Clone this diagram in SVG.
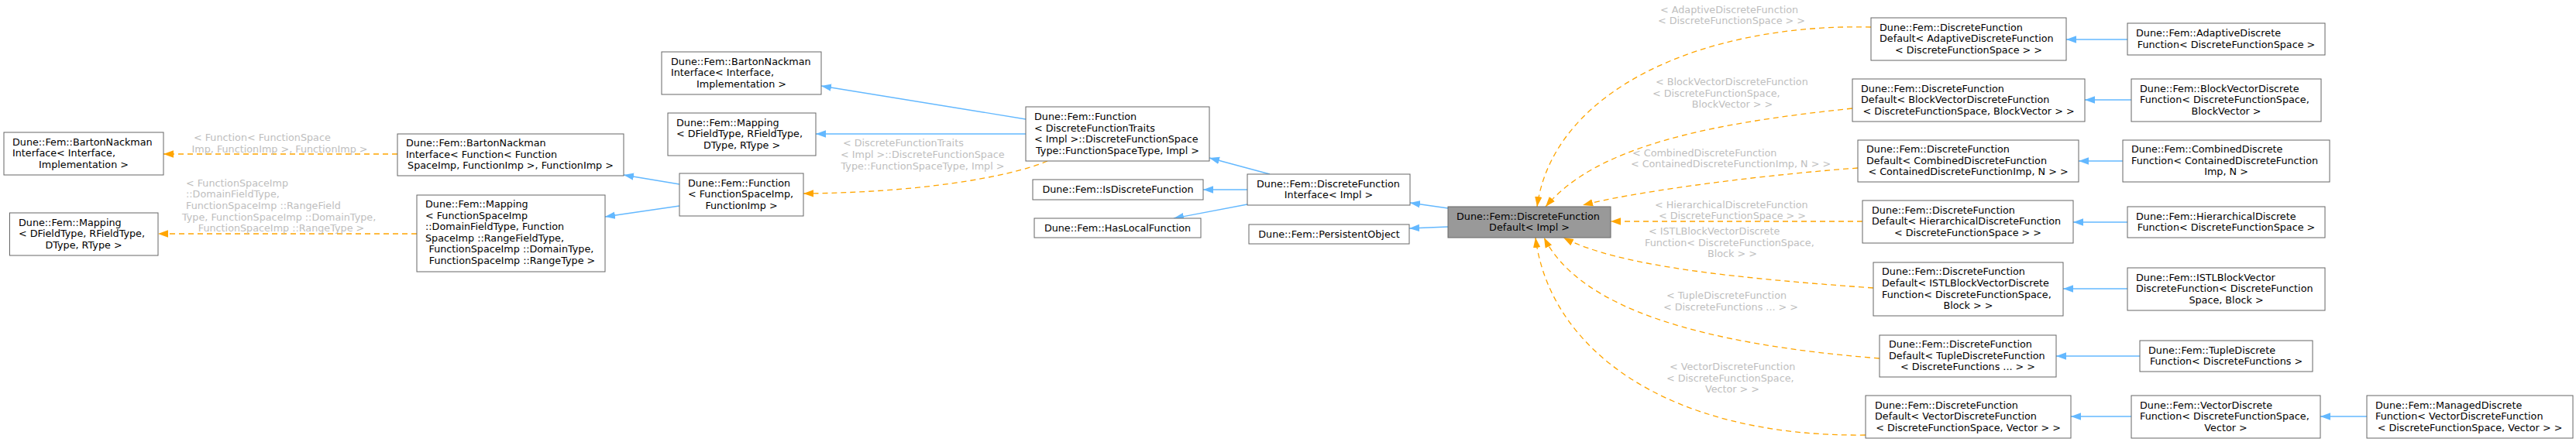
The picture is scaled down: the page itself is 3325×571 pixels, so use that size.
<svg xmlns="http://www.w3.org/2000/svg" width="3325" height="571" viewBox="0 0 3325 571">
<style>
text{font-family:"DejaVu Sans",sans-serif;font-size:12.75px;fill:#000}
.c{text-anchor:middle}
.lbl{fill:#bebebe}
.n{fill:#fff;stroke:#666;stroke-width:1}
.m{fill:#999;stroke:#666;stroke-width:1}
.b{fill:none;stroke:#63b8ff;stroke-width:1.3;marker-end:url(#ab)}
.o{fill:none;stroke:#ffa500;stroke-width:1.3;stroke-dasharray:7,5;marker-end:url(#ao)}
</style>
<defs>
<marker id="ab" viewBox="0 0 13 10" refX="13" refY="5" markerWidth="13" markerHeight="10" markerUnits="userSpaceOnUse" orient="auto"><path d="M0,0.3 L13,5 L0,9.7 z" fill="#63b8ff"/></marker>
<marker id="ao" viewBox="0 0 13 10" refX="13" refY="5" markerWidth="13" markerHeight="10" markerUnits="userSpaceOnUse" orient="auto"><path d="M0,0.3 L13,5 L0,9.7 z" fill="#ffa500"/></marker>
</defs>
<rect width="3325" height="571" fill="#fff"/>
<g id="connectors">
<path class="b" d="M1324,154 L1060,111"/>
<path class="b" d="M1324,173 L1053,173"/>
<path class="b" d="M877,238 L805,226"/>
<path class="b" d="M877,266 L781,280"/>
<path class="b" d="M1639,225 L1561,204"/>
<path class="b" d="M1610,245 L1553,245"/>
<path class="b" d="M1610,264 L1515,282"/>
<path class="b" d="M1869,269 L1820,262"/>
<path class="b" d="M1869,293 L1819,295"/>
<path class="b" d="M2746,51 L2667,51"/>
<path class="b" d="M2751,129 L2691,129"/>
<path class="b" d="M2740,208 L2683,208"/>
<path class="b" d="M2746,287 L2676,287"/>
<path class="b" d="M2746,373 L2663,373"/>
<path class="b" d="M2762,460 L2654,460"/>
<path class="b" d="M2751,538 L2673,538"/>
<path class="b" d="M3055,538 L2995,538"/>
<path class="o" d="M513,199 L211,199"/>
<path class="o" d="M538,302 L204,302"/>
<path class="o" d="M1352,208 C1300,230 1180,249 1037,250"/>
<path class="o" d="M2415,35 C2200,30 2005,115 1984,267"/>
<path class="o" d="M2391,140 C2200,160 2060,190 1995,267"/>
<path class="o" d="M2398,217 C2250,228 2100,250 2043,265"/>
<path class="o" d="M2404,286 L2079,286"/>
<path class="o" d="M2418,372 C2250,360 2090,345 2018,307"/>
<path class="o" d="M2426,463 C2200,445 2040,400 1993,307"/>
<path class="o" d="M2408,562 C2150,565 2000,450 1982,307"/>
<g id="edge-labels">
<text class="lbl" x="250" y="181.5">&lt; Function&lt; FunctionSpace</text>
<text class="lbl c" x="361" y="196.5">Imp, FunctionImp &gt;, FunctionImp &gt;</text>
<text class="lbl" x="240" y="240.5">&lt; FunctionSpaceImp</text>
<text class="lbl" x="240" y="254.5">::DomainFieldType,</text>
<text class="lbl" x="240" y="269.5">FunctionSpaceImp ::RangeField</text>
<text class="lbl" x="235" y="284.5">Type, FunctionSpaceImp ::DomainType,</text>
<text class="lbl c" x="363" y="298.5">FunctionSpaceImp ::RangeType &gt;</text>
<text class="lbl" x="1088" y="188.5">&lt; DiscreteFunctionTraits</text>
<text class="lbl" x="1085" y="203.5">&lt; Impl &gt;::DiscreteFunctionSpace</text>
<text class="lbl c" x="1191" y="218.5">Type::FunctionSpaceType, Impl &gt;</text>
<text class="lbl" x="2143" y="16.5">&lt; AdaptiveDiscreteFunction</text>
<text class="lbl c" x="2235" y="30.5">&lt; DiscreteFunctionSpace &gt; &gt;</text>
<text class="lbl" x="2137" y="109.5">&lt; BlockVectorDiscreteFunction</text>
<text class="lbl" x="2133" y="124.5">&lt; DiscreteFunctionSpace,</text>
<text class="lbl c" x="2236" y="138.5">BlockVector &gt; &gt;</text>
<text class="lbl" x="2107" y="201.5">&lt; CombinedDiscreteFunction</text>
<text class="lbl c" x="2234" y="215.5">&lt; ContainedDiscreteFunctionImp, N &gt; &gt;</text>
<text class="lbl" x="2136" y="268.5">&lt; HierarchicalDiscreteFunction</text>
<text class="lbl c" x="2236" y="282.5">&lt; DiscreteFunctionSpace &gt; &gt;</text>
<text class="lbl" x="2128" y="302.5">&lt; ISTLBlockVectorDiscrete</text>
<text class="lbl" x="2123" y="317.5">Function&lt; DiscreteFunctionSpace,</text>
<text class="lbl c" x="2236" y="331.5">Block &gt; &gt;</text>
<text class="lbl" x="2151" y="385.5">&lt; TupleDiscreteFunction</text>
<text class="lbl c" x="2234" y="400.5">&lt; DiscreteFunctions ... &gt; &gt;</text>
<text class="lbl" x="2155" y="477.5">&lt; VectorDiscreteFunction</text>
<text class="lbl" x="2151" y="492.5">&lt; DiscreteFunctionSpace,</text>
<text class="lbl c" x="2236" y="506.5">Vector &gt; &gt;</text>
</g>
</g>
<g id="n1"><rect class="n" x="5" y="171" width="206" height="55"/><text x="16" y="187.7">Dune::Fem::BartonNackman</text><text x="16" y="202.3">Interface&lt; Interface,</text><text class="c" x="108" y="216.9">Implementation &gt;</text></g>
<g id="n2"><rect class="n" x="12.5" y="275" width="191.5" height="55"/><text x="24" y="291.7">Dune::Fem::Mapping</text><text x="24" y="306.3">&lt; DFieldType, RFieldType,</text><text class="c" x="108" y="320.9">DType, RType &gt;</text></g>
<g id="n3"><rect class="n" x="513" y="173" width="292" height="54"/><text x="524" y="189.2">Dune::Fem::BartonNackman</text><text x="524" y="203.8">Interface&lt; Function&lt; Function</text><text class="c" x="659" y="218.4">SpaceImp, FunctionImp &gt;, FunctionImp &gt;</text></g>
<g id="n4"><rect class="n" x="538" y="252" width="243" height="99"/><text x="549" y="268">Dune::Fem::Mapping</text><text x="549" y="282.6">&lt; FunctionSpaceImp</text><text x="549" y="297.2">::DomainFieldType, Function</text><text x="549" y="311.8">SpaceImp ::RangeFieldType,</text><text x="553.5" y="326.4">FunctionSpaceImp ::DomainType,</text><text class="c" x="661" y="341">FunctionSpaceImp ::RangeType &gt;</text></g>
<g id="n5"><rect class="n" x="854" y="67" width="206" height="55"/><text x="866" y="83.7">Dune::Fem::BartonNackman</text><text x="866" y="98.3">Interface&lt; Interface,</text><text class="c" x="957" y="112.9">Implementation &gt;</text></g>
<g id="n6"><rect class="n" x="862" y="146" width="191" height="55"/><text x="873" y="162.7">Dune::Fem::Mapping</text><text x="873" y="177.3">&lt; DFieldType, RFieldType,</text><text class="c" x="957.5" y="191.9">DType, RType &gt;</text></g>
<g id="n7"><rect class="n" x="877" y="224" width="160" height="55"/><text x="888" y="240.7">Dune::Fem::Function</text><text x="888" y="255.3">&lt; FunctionSpaceImp,</text><text class="c" x="957" y="269.9">FunctionImp &gt;</text></g>
<g id="n8"><rect class="n" x="1324" y="138" width="237" height="70"/><text x="1335" y="154.9">Dune::Fem::Function</text><text x="1335" y="169.5">&lt; DiscreteFunctionTraits</text><text x="1335" y="184.1">&lt; Impl &gt;::DiscreteFunctionSpace</text><text class="c" x="1442.5" y="198.7">Type::FunctionSpaceType, Impl &gt;</text></g>
<g id="n9"><rect class="n" x="1333" y="232" width="220" height="26"/><text class="c" x="1443" y="249.3">Dune::Fem::IsDiscreteFunction</text></g>
<g id="n10"><rect class="n" x="1335" y="282" width="215" height="25"/><text class="c" x="1442.5" y="298.8">Dune::Fem::HasLocalFunction</text></g>
<g id="n11"><rect class="n" x="1610" y="225" width="210" height="40"/><text x="1622" y="241.5">Dune::Fem::DiscreteFunction</text><text class="c" x="1715" y="256.1">Interface&lt; Impl &gt;</text></g>
<g id="n12"><rect class="n" x="1612" y="290" width="207" height="25"/><text class="c" x="1715.5" y="306.8">Dune::Fem::PersistentObject</text></g>
<g id="n13"><rect class="m" x="1869" y="267" width="210" height="40"/><text x="1880" y="283.5">Dune::Fem::DiscreteFunction</text><text class="c" x="1974" y="298.1">Default&lt; Impl &gt;</text></g>
<g id="n14"><rect class="n" x="2415" y="23" width="252" height="55"/><text x="2426" y="39.7">Dune::Fem::DiscreteFunction</text><text x="2426" y="54.3">Default&lt; AdaptiveDiscreteFunction</text><text class="c" x="2541" y="68.9">&lt; DiscreteFunctionSpace &gt; &gt;</text></g>
<g id="n15"><rect class="n" x="2391" y="102" width="300" height="55"/><text x="2402" y="118.7">Dune::Fem::DiscreteFunction</text><text x="2402" y="133.3">Default&lt; BlockVectorDiscreteFunction</text><text class="c" x="2541" y="147.9">&lt; DiscreteFunctionSpace, BlockVector &gt; &gt;</text></g>
<g id="n16"><rect class="n" x="2398" y="181" width="285" height="54"/><text x="2409" y="197.2">Dune::Fem::DiscreteFunction</text><text x="2409" y="211.8">Default&lt; CombinedDiscreteFunction</text><text class="c" x="2540.5" y="226.4">&lt; ContainedDiscreteFunctionImp, N &gt; &gt;</text></g>
<g id="n17"><rect class="n" x="2404" y="259" width="272" height="55"/><text x="2416" y="275.7">Dune::Fem::DiscreteFunction</text><text x="2416" y="290.3">Default&lt; HierarchicalDiscreteFunction</text><text class="c" x="2540" y="304.9">&lt; DiscreteFunctionSpace &gt; &gt;</text></g>
<g id="n18"><rect class="n" x="2418" y="339" width="245" height="69"/><text x="2429" y="355.4">Dune::Fem::DiscreteFunction</text><text x="2429" y="370">Default&lt; ISTLBlockVectorDiscrete</text><text x="2429" y="384.6">Function&lt; DiscreteFunctionSpace,</text><text class="c" x="2540.5" y="399.2">Block &gt; &gt;</text></g>
<g id="n19"><rect class="n" x="2426" y="433" width="228" height="54"/><text x="2438" y="449.2">Dune::Fem::DiscreteFunction</text><text x="2438" y="463.8">Default&lt; TupleDiscreteFunction</text><text class="c" x="2540" y="478.4">&lt; DiscreteFunctions ... &gt; &gt;</text></g>
<g id="n20"><rect class="n" x="2408" y="511" width="265" height="55"/><text x="2420" y="527.7">Dune::Fem::DiscreteFunction</text><text x="2420" y="542.3">Default&lt; VectorDiscreteFunction</text><text class="c" x="2540.5" y="556.9">&lt; DiscreteFunctionSpace, Vector &gt; &gt;</text></g>
<g id="n21"><rect class="n" x="2746" y="30" width="255" height="41"/><text x="2757" y="47">Dune::Fem::AdaptiveDiscrete</text><text class="c" x="2873.5" y="61.6">Function&lt; DiscreteFunctionSpace &gt;</text></g>
<g id="n22"><rect class="n" x="2751" y="102" width="245" height="55"/><text x="2762" y="118.7">Dune::Fem::BlockVectorDiscrete</text><text x="2762" y="133.3">Function&lt; DiscreteFunctionSpace,</text><text class="c" x="2873.5" y="147.9">BlockVector &gt;</text></g>
<g id="n23"><rect class="n" x="2740" y="181" width="267" height="54"/><text x="2751" y="197.2">Dune::Fem::CombinedDiscrete</text><text x="2751" y="211.8">Function&lt; ContainedDiscreteFunction</text><text class="c" x="2873.5" y="226.4">Imp, N &gt;</text></g>
<g id="n24"><rect class="n" x="2746" y="267" width="255" height="40"/><text x="2757" y="283.5">Dune::Fem::HierarchicalDiscrete</text><text class="c" x="2873.5" y="298.1">Function&lt; DiscreteFunctionSpace &gt;</text></g>
<g id="n25"><rect class="n" x="2746" y="346" width="255" height="55"/><text x="2757" y="362.7">Dune::Fem::ISTLBlockVector</text><text x="2757" y="377.3">DiscreteFunction&lt; DiscreteFunction</text><text class="c" x="2873.5" y="391.9">Space, Block &gt;</text></g>
<g id="n26"><rect class="n" x="2762" y="440" width="223" height="40"/><text x="2773" y="456.5">Dune::Fem::TupleDiscrete</text><text class="c" x="2873.5" y="471.1">Function&lt; DiscreteFunctions &gt;</text></g>
<g id="n27"><rect class="n" x="2751" y="511" width="244" height="55"/><text x="2762" y="527.7">Dune::Fem::VectorDiscrete</text><text x="2762" y="542.3">Function&lt; DiscreteFunctionSpace,</text><text class="c" x="2873" y="556.9">Vector &gt;</text></g>
<g id="n28"><rect class="n" x="3055" y="511" width="266" height="55"/><text x="3066" y="527.7">Dune::Fem::ManagedDiscrete</text><text x="3066" y="542.3">Function&lt; VectorDiscreteFunction</text><text class="c" x="3188" y="556.9">&lt; DiscreteFunctionSpace, Vector &gt; &gt;</text></g>
</svg>
